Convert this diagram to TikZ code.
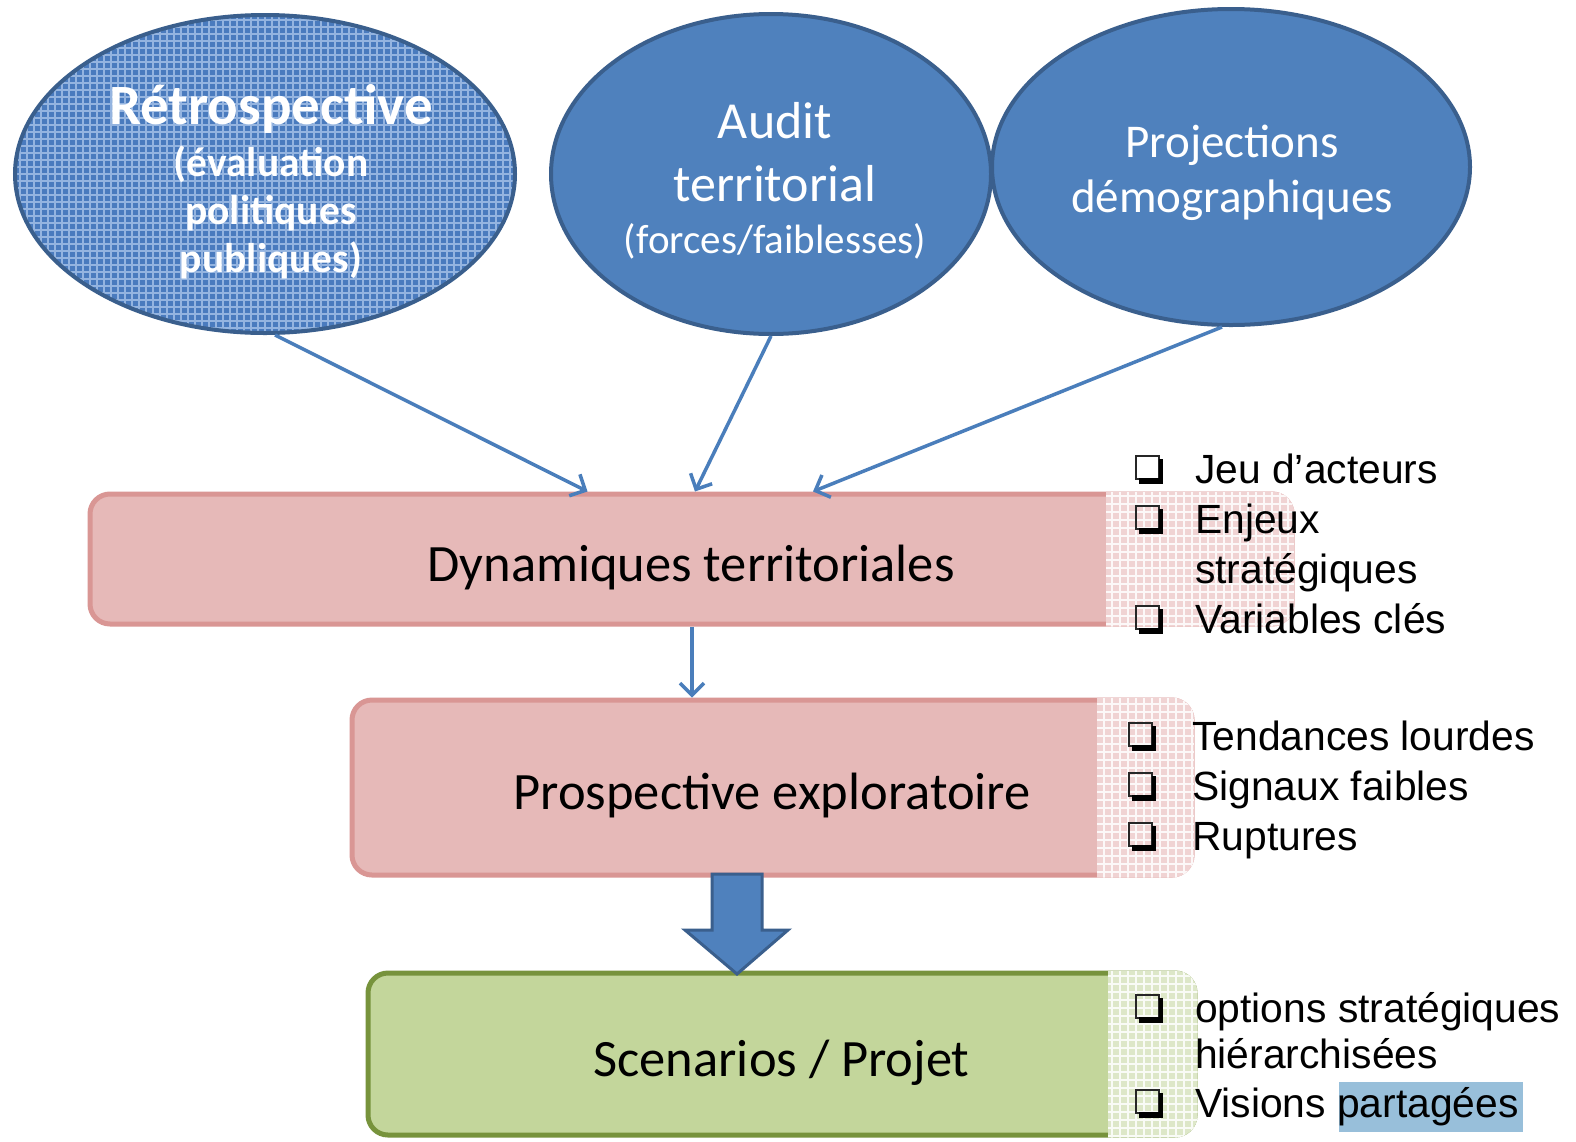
\documentclass[tikz,border=0pt]{standalone}
\usepackage{fontspec}
\setmainfont{Carlito}
\newfontfamily\arialf{Liberation Sans}
\usetikzlibrary{arrows.meta,shapes.geometric,calc}
\definecolor{bl}{HTML}{4F81BD}
\definecolor{blgrid}{HTML}{4A7BBE}
\definecolor{bldark}{HTML}{3A5F8D}
\definecolor{gridbl}{HTML}{94B4E0}
\definecolor{arr}{HTML}{4A7EBB}
\definecolor{pk}{HTML}{E6B9B8}
\definecolor{pkdark}{HTML}{D99694}
\definecolor{pkpat}{HTML}{F0D3D3}
\definecolor{gr}{HTML}{C3D69B}
\definecolor{grdark}{HTML}{77933C}
\definecolor{grpat}{HTML}{DDE7C8}
\definecolor{hl}{HTML}{98BFDA}
\newcommand\patreg[5]{%
 \path[fill=#5, path picture={\draw[white, line width=1.6pt, opacity=.85] (path picture bounding box.south west) grid[step=8pt] (path picture bounding box.north east);}]
 (#1,#2) -- ({#3-22.5},#2) arc[start angle=-90,end angle=0,radius=22.5] -- (#3,{#4-22.5}) arc[start angle=0,end angle=90,radius=22.5] -- (#1,#4) -- cycle;}
\tikzset{
 ell/.style={ellipse, draw=bldark, line width=4pt, fill=bl, inner sep=0pt},
 elltext/.style={text=white, align=center, inner sep=0pt},
 boxx/.style={rounded corners=20pt, line width=5pt, inner sep=0pt, text height=44pt, text depth=0pt, font=\fontsize{52.5}{60}\selectfont},
 thin/.style={draw=arr, line width=3.5pt, -{Straight Barb[length=12pt,width=24pt]}},
 lst/.style={font=\arialf\fontsize{40.8}{48}\selectfont, anchor=base west, inner sep=0pt},
 qbox/.pic={
  \draw[line width=2.5pt, black!85] (1,-27) rectangle (24,-4);
  \fill[black] (4,-5) rectangle (28,1);
  \fill[black] (23.5,-24) rectangle (28,1);
 }
}
\begin{document}
\begin{tikzpicture}[x=1pt,y=-1pt]
\useasboundingbox (0,0) rectangle (1576,1141);
\fill[white] (0,0) rectangle (1576,1141);

% ellipses
\node[ell, fill=blgrid, minimum width=500pt, minimum height=318pt,
  path picture={\draw[gridbl, line width=2pt] (path picture bounding box.south west) grid[step=7pt] (path picture bounding box.north east);}] (r) at (265,174) {};
\node[elltext, font=\bfseries\fontsize{41.5}{48}\selectfont] (rt) at ($(r.center)+(6,8)$)
  {{\fontsize{57}{60}\selectfont Rétrospective}\\[4pt](évaluation\\politiques\\publiques)};
\node[ell, minimum width=440pt, minimum height=320pt] (a) at (771,174) {};
\node[elltext, font=\fontsize{52}{56}\selectfont] (at) at ($(a.center)+(4,7)$)
  {Audit\\[7pt]territorial\\[-4pt]{\fontsize{41}{47}\selectfont (forces/faiblesses)}};
\node[ell, minimum width=478pt, minimum height=316pt] (p) at (1231,167) {};
\node[elltext, font=\fontsize{47}{55}\selectfont] (pt) at ($(p.center)+(1,6)$)
  {Projections\\démographiques};

% boxes
\node[boxx, draw=pkdark, fill=pk, minimum width=1202pt, minimum height=130pt] (dyn) at (691,559) {Dynamiques territoriales};
\patreg{1106}{491.5}{1294.5}{626.5}{pkpat}
\node[boxx, draw=pkdark, fill=pk, minimum width=840pt, minimum height=175pt] (pro) at (772,787.5) {Prospective exploratoire};
\patreg{1097}{697.5}{1194.5}{877.5}{pkpat}
\node[boxx, draw=grdark, fill=gr, minimum width=827pt, minimum height=162pt] (sce) at (781.5,1054) {Scenarios / Projet};
\patreg{1108}{970.5}{1197.5}{1137.5}{grpat}

% connectors
\draw[thin] ($(r.south)+(10,0)$) -- ($(dyn.north west)+(500,0)$);
\draw[thin] (a.south) -- ($(dyn.north)+(4,0)$);
\draw[thin] ($(p.south)+(-9,0)$) -- ($(dyn.north)+(122,0)$);
\draw[thin] ($(dyn.south)+(1,0)$) -- ($(dyn.south |- pro.north)+(1,0)$);

% block arrow
\draw[fill=bl, draw=bldark, line width=3pt, line join=miter]
  (712,874) -- (762,874) -- (762,930) -- (788,930) -- (737,974) -- (685,930) -- (712,930) -- cycle;

% lists
\pic at (1135,483) {qbox};
\pic at (1135,533) {qbox};
\pic at (1135,633) {qbox};
\node[lst] (l1) at (1195,483) {Jeu d’acteurs};
\node[lst] (l2) at (1195,533) {Enjeux};
\node[lst] (l3) at (1195,583) {stratégiques};
\node[lst] (l4) at (1195,633) {Variables clés};

\pic at (1128,750) {qbox};
\pic at (1128,800) {qbox};
\pic at (1128,850) {qbox};
\node[lst] (m1) at (1192,750) {Tendances lourdes};
\node[lst] (m2) at (1192,800) {Signaux faibles};
\node[lst] (m3) at (1192,850) {Ruptures};

\fill[hl] (1339,1082) rectangle (1523,1132);
\pic at (1135,1022) {qbox};
\pic at (1135,1117) {qbox};
\node[lst] (n1) at (1195,1022) {options stratégiques};
\node[lst] (n2) at (1195,1068) {hiérarchisées};
\node[lst] (n3) at (1195,1117) {Visions partagées};
\end{tikzpicture}
\end{document}
